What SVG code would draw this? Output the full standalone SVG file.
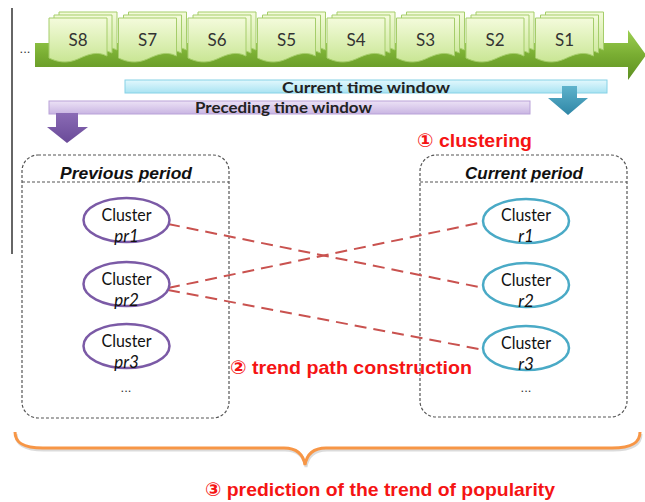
<svg xmlns="http://www.w3.org/2000/svg" width="645" height="502" viewBox="0 0 645 502">
<defs>
<linearGradient id="gBand" x1="0" y1="0" x2="0" y2="1">
<stop offset="0" stop-color="#9ccf52"/><stop offset="0.5" stop-color="#79ad32"/><stop offset="1" stop-color="#5d8f22"/>
</linearGradient>
<linearGradient id="gDoc" x1="0" y1="0" x2="0" y2="1">
<stop offset="0" stop-color="#f4fbdc"/><stop offset="1" stop-color="#c9e694"/>
</linearGradient>
<linearGradient id="gCyan" x1="0" y1="0" x2="0" y2="1">
<stop offset="0" stop-color="#e2f8fd"/><stop offset="1" stop-color="#a9e3f2"/>
</linearGradient>
<linearGradient id="gPurp" x1="0" y1="0" x2="0" y2="1">
<stop offset="0" stop-color="#ece2f6"/><stop offset="1" stop-color="#c9b5e2"/>
</linearGradient>
<linearGradient id="gBlue" x1="0" y1="0" x2="0" y2="1">
<stop offset="0" stop-color="#5eb3cc"/><stop offset="1" stop-color="#2f86a6"/>
</linearGradient>
<linearGradient id="gViol" x1="0" y1="0" x2="0" y2="1">
<stop offset="0" stop-color="#8a6bb5"/><stop offset="1" stop-color="#6a4a98"/>
</linearGradient>
<path id="sheet" d="M0,0 H58 V38 C48,33 40,36 29,41 C18,46 8,44 0,40 Z"/>
<g id="stack">
<use href="#sheet" x="10" y="-6"/>
<use href="#sheet" x="5" y="-3"/>
<use href="#sheet" x="0" y="0"/>
</g>
</defs>
<style>
.doc use{fill:url(#gDoc);stroke:#a5cd6a;stroke-width:1}
.slab{font-family:Lato,"Liberation Sans",sans-serif;font-size:17px;fill:#333;text-anchor:middle}
.win{font-family:Lato,"Liberation Sans",sans-serif;font-size:16px;font-weight:bold;fill:#222;text-anchor:middle}
.box{fill:none;stroke:#555;stroke-width:1.2;stroke-dasharray:3 2}
.hdr{font-family:"Liberation Sans",Arial,sans-serif;font-size:17px;font-weight:bold;font-style:italic;fill:#111;text-anchor:middle}
.ep{fill:#fff;stroke:#7b5aa6;stroke-width:2.5}
.ec{fill:#fff;stroke:#4aaac6;stroke-width:2.5}
.cl{font-family:Lato,"Liberation Sans",sans-serif;font-size:17px;fill:#111;text-anchor:middle}
.cli{font-family:Lato,"Liberation Sans",sans-serif;font-size:17px;font-style:italic;fill:#111;text-anchor:middle}
.dots{font-family:"Liberation Sans",sans-serif;font-size:13px;fill:#333;text-anchor:middle}
.red{font-family:"Liberation Sans","DejaVu Sans",sans-serif;font-size:19px;font-weight:bold;fill:#f51414}
.link{fill:none;stroke:#c9524f;stroke-width:2;stroke-dasharray:12 7}
</style>

<line x1="12" y1="8" x2="12" y2="254" stroke="#333" stroke-width="1.5"/>
<text class="dots" x="25" y="53">...</text>

<g id="timeline">
<path d="M35,43 H628 V30 L646,55 L628,80 V67 H35 Z" fill="url(#gBand)"/>
</g>

<g id="S8" class="doc"><use href="#stack" x="49" y="18"/><text class="slab" x="78" y="46">S8</text></g>
<g id="S7" class="doc"><use href="#stack" x="118.5" y="18"/><text class="slab" x="147.5" y="46">S7</text></g>
<g id="S6" class="doc"><use href="#stack" x="188" y="18"/><text class="slab" x="217" y="46">S6</text></g>
<g id="S5" class="doc"><use href="#stack" x="257.5" y="18"/><text class="slab" x="286.5" y="46">S5</text></g>
<g id="S4" class="doc"><use href="#stack" x="327" y="18"/><text class="slab" x="356" y="46">S4</text></g>
<g id="S3" class="doc"><use href="#stack" x="396.5" y="18"/><text class="slab" x="425.5" y="46">S3</text></g>
<g id="S2" class="doc"><use href="#stack" x="466" y="18"/><text class="slab" x="495" y="46">S2</text></g>
<g id="S1" class="doc"><use href="#stack" x="535.5" y="18"/><text class="slab" x="564.5" y="46">S1</text></g>

<g id="current-window">
<rect x="125" y="80" width="482" height="13" fill="url(#gCyan)" stroke="#86d2e6" stroke-width="1"/>
<text class="win" x="366" y="92.5" textLength="168" lengthAdjust="spacingAndGlyphs">Current time window</text>
<path d="M562,86 H577 V98 H588 L568,115 L548,98 H562 Z" fill="url(#gBlue)"/>
</g>
<g id="preceding-window">
<rect x="49" y="101" width="481" height="13" fill="url(#gPurp)" stroke="#b9a2d8" stroke-width="1"/>
<text class="win" x="283.5" y="112.5" textLength="177" lengthAdjust="spacingAndGlyphs">Preceding time window</text>
<path d="M56,113 H78 V127 H88 L67,143 L47,127 H56 Z" fill="url(#gViol)"/>
</g>

<text class="red" x="417" y="147" textLength="115" lengthAdjust="spacingAndGlyphs">① clustering</text>

<g id="previous-period">
<rect class="box" x="22" y="155" width="207" height="263" rx="16"/>
<line class="box" x1="22" y1="182" x2="229" y2="182"/>
<text class="hdr" x="126" y="179" textLength="132" lengthAdjust="spacingAndGlyphs">Previous period</text>
<text class="dots" x="126" y="392">...</text>
</g>
<g id="current-period">
<rect class="box" x="420" y="155" width="207" height="262" rx="16"/>
<line class="box" x1="420" y1="182" x2="627" y2="182"/>
<text class="hdr" x="524" y="179" textLength="118" lengthAdjust="spacingAndGlyphs">Current period</text>
<text class="dots" x="526" y="392">...</text>
</g>

<g id="connectors">
<line class="link" x1="168" y1="224" x2="479" y2="287"/>
<line class="link" x1="168" y1="288" x2="479" y2="223"/>
<line class="link" x1="168" y1="290" x2="479" y2="349"/>
</g>

<g id="pr1"><ellipse class="ep" cx="126.5" cy="220" rx="43" ry="22"/><text class="cl" x="126.5" y="221" textLength="50" lengthAdjust="spacingAndGlyphs">Cluster</text><text class="cli" x="126.5" y="242">pr1</text></g>
<g id="pr2"><ellipse class="ep" cx="126.5" cy="284" rx="43" ry="22"/><text class="cl" x="126.5" y="285" textLength="50" lengthAdjust="spacingAndGlyphs">Cluster</text><text class="cli" x="126.5" y="306">pr2</text></g>
<g id="pr3"><ellipse class="ep" cx="126.5" cy="346" rx="43" ry="22"/><text class="cl" x="126.5" y="347" textLength="50" lengthAdjust="spacingAndGlyphs">Cluster</text><text class="cli" x="126.5" y="368">pr3</text></g>

<g id="r1"><ellipse class="ec" cx="526" cy="221" rx="43" ry="22"/><text class="cl" x="526" y="221" textLength="50" lengthAdjust="spacingAndGlyphs">Cluster</text><text class="cli" x="526" y="242">r1</text></g>
<g id="r2"><ellipse class="ec" cx="526" cy="285" rx="43" ry="22"/><text class="cl" x="526" y="286" textLength="50" lengthAdjust="spacingAndGlyphs">Cluster</text><text class="cli" x="526" y="307">r2</text></g>
<g id="r3"><ellipse class="ec" cx="526" cy="348" rx="43" ry="22"/><text class="cl" x="526" y="349" textLength="50" lengthAdjust="spacingAndGlyphs">Cluster</text><text class="cli" x="526" y="370">r3</text></g>

<text class="red" x="230" y="374" textLength="242" lengthAdjust="spacingAndGlyphs">② trend path construction</text>

<g id="brace">
<path d="M16,434 C16,444 23,450 44,450 H285 C297,450 304,455 306,467 C308,455 315,450 327,450 H613 C634,450 641,444 641,434" fill="none" stroke="#999" stroke-opacity="0.35" stroke-width="3"/>
<path d="M15,432 C15,442 22,448 43,448 H284 C296,448 303,453 305,465 C307,453 314,448 326,448 H612 C633,448 640,442 640,432" fill="none" stroke="#f79646" stroke-width="3"/>
</g>
<text class="red" x="205" y="496" textLength="350" lengthAdjust="spacingAndGlyphs">③ prediction of the trend of popularity</text>
</svg>
